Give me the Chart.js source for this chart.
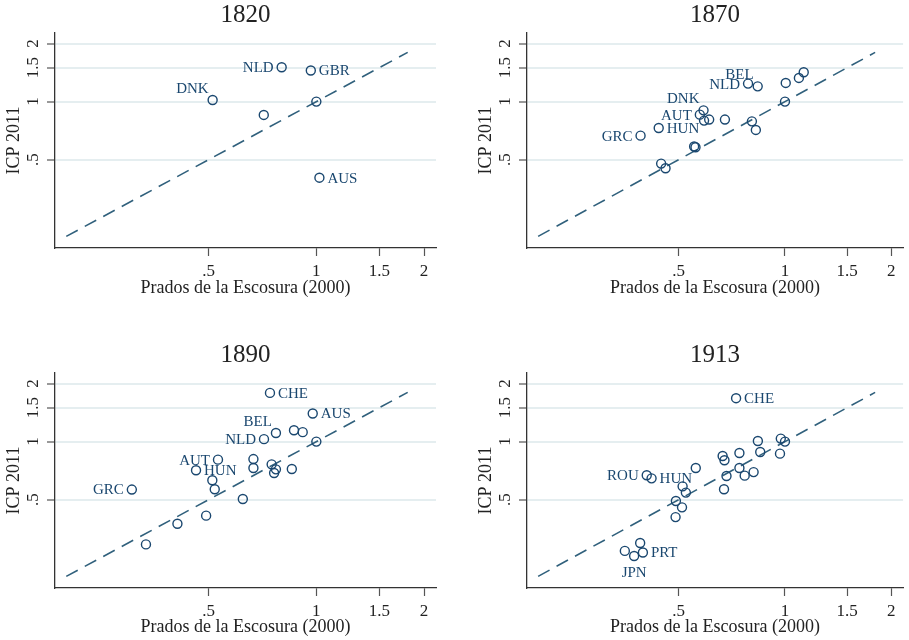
<!DOCTYPE html>
<html>
<head>
<meta charset="utf-8">
<script src="https://cdn.jsdelivr.net/npm/chart.js@4.4.1/dist/chart.umd.min.js"></script>
<style>
  body { margin: 0; background: #fff; }
  #painel { position: relative; width: 909px; height: 640px; background: #fff; overflow: hidden; }
  canvas { position: absolute; }
</style>
</head>
<body>
<div id="painel">
  <canvas id="g1820" width="454" height="320" style="left:0;top:0"></canvas>
  <canvas id="g1870" width="454" height="320" style="left:455px;top:0"></canvas>
  <canvas id="g1890" width="454" height="320" style="left:0;top:320px"></canvas>
  <canvas id="g1913" width="454" height="320" style="left:455px;top:320px"></canvas>
</div>
<script>
// === DADOS (Prados de la Escosura 2000 vs ICP 2011) ===
const paises1820 = ['DNK', 'NLD', 'GBR', '', '', 'AUS'];
const prados1820 = [0.513, 0.80, 0.965, 0.713, 1.00, 1.02];
const icp1820    = [1.02, 1.507, 1.45, 0.853, 1.00, 0.403];

const paises1870 = ['GRC', 'HUN', '', '', 'DNK', 'AUT', '', '', '', 'NLD', 'BEL', '', '', '', '', '', '', '', ''];
const prados1870 = [0.390, 0.439, 0.553, 0.558, 0.588, 0.574, 0.590, 0.610, 0.676, 0.786, 0.837, 1.005, 1.095, 1.13, 1.00, 0.806, 0.827, 0.446, 0.459];
const icp1870    = [0.666, 0.730, 0.585, 0.580, 0.901, 0.856, 0.797, 0.807, 0.807, 1.24, 1.20, 1.25, 1.327, 1.42, 1.00, 0.790, 0.713, 0.477, 0.451];

const paises1890 = ['CHE', 'AUS', 'BEL', '', '', 'NLD', '', 'AUT', '', '', '', '', '', '', 'HUN', '', '', 'GRC', '', '', '', ''];
const prados1890 = [0.742, 0.977, 0.771, 0.866, 0.916, 0.714, 1.00, 0.531, 0.667, 0.667, 0.750, 0.771, 0.762, 0.854, 0.461, 0.512, 0.520, 0.305, 0.623, 0.492, 0.409, 0.334];
const icp1890    = [1.79, 1.40, 1.108, 1.145, 1.12, 1.03, 1.00, 0.806, 0.812, 0.730, 0.762, 0.718, 0.687, 0.721, 0.710, 0.630, 0.566, 0.564, 0.504, 0.413, 0.375, 0.293];

const paises1913 = ['CHE', '', '', '', '', '', '', '', '', '', '', '', '', '', '', 'ROU', 'HUN', '', '', '', '', '', '', '', 'JPN', 'PRT'];
const prados1913 = [0.727, 0.838, 0.973, 1.00, 0.968, 0.851, 0.743, 0.666, 0.674, 0.559, 0.743, 0.683, 0.769, 0.815, 0.672, 0.406, 0.419, 0.513, 0.524, 0.491, 0.511, 0.490, 0.389, 0.352, 0.374, 0.396];
const icp1913    = [1.68, 1.007, 1.037, 1.00, 0.866, 0.883, 0.873, 0.842, 0.800, 0.730, 0.730, 0.663, 0.666, 0.695, 0.566, 0.669, 0.645, 0.586, 0.544, 0.492, 0.456, 0.406, 0.298, 0.271, 0.255, 0.266];

// marcas dos eixos e linha de 45 graus
const valoresTicks = [0.5, 1, 1.5, 2];
const rotulosTicks = ['.5', '1', '1.5', '2'];
const linha45 = [0.2, 1.8];

// posição das etiquetas (l = esquerda, r = direita, ul = acima/esquerda, b = abaixo)
const posEtiquetas = {
  '1820': { DNK: 'ul', NLD: 'l', GBR: 'r', AUS: 'r' },
  '1870': { GRC: 'l', HUN: 'r', DNK: 'ul', AUT: 'l', NLD: 'l', BEL: 'ul' },
  '1890': { CHE: 'r', AUS: 'r', BEL: 'ul', NLD: 'l', AUT: 'l', HUN: 'r', GRC: 'l' },
  '1913': { CHE: 'r', ROU: 'l', HUN: 'r', JPN: 'b', PRT: 'r' }
};

const azul = '#1a476f';
const serif = '"Liberation Serif", "Times New Roman", serif';

// Plugin para escrever os códigos dos países ao lado dos pontos
function pluginEtiquetas(paises, posicoes) {
  return {
    id: 'etiquetas',
    afterDatasetsDraw(chart) {
      const ctx = chart.ctx;
      const meta = chart.getDatasetMeta(0);
      ctx.save();
      ctx.font = '15px ' + serif;
      ctx.fillStyle = azul;
      ctx.textBaseline = 'middle';
      paises.forEach((p, i) => {
        if (!p) return;
        const pt = meta.data[i];
        const lado = posicoes[p] || 'r';
        if (lado === 'r') {
          ctx.textAlign = 'left';
          ctx.fillText(p, pt.x + 8, pt.y + 1);
        } else if (lado === 'l') {
          ctx.textAlign = 'right';
          ctx.fillText(p, pt.x - 8, pt.y + 1);
        } else if (lado === 'ul') {
          ctx.textAlign = 'right';
          ctx.fillText(p, pt.x - 4, pt.y - 11);
        } else {
          ctx.textAlign = 'center';
          ctx.fillText(p, pt.x, pt.y + 17);
        }
      });
      ctx.restore();
    }
  };
}

function criarGrafico(ano, paises, xs, ys, linha, coluna) {
  const ctx = document.getElementById('g' + ano).getContext('2d');
  const emCima = linha === 0;
  new Chart(ctx, {
    type: 'scatter',
    data: {
      datasets: [
        {
          data: xs.map((x, i) => ({ x: x, y: ys[i] })),
          borderColor: azul,
          backgroundColor: 'rgba(0,0,0,0)',
          borderWidth: 1.4,
          pointRadius: 4.5,
          pointHoverRadius: 4.5
        },
        {
          data: linha45.map(v => ({ x: v, y: v })),
          showLine: true,
          borderColor: '#30607c',
          borderWidth: 1.6,
          borderDash: [13, 8],
          pointRadius: 0,
          fill: false
        }
      ]
    },
    options: {
      responsive: false,
      animation: false,
      devicePixelRatio: 1,
      layout: { padding: { left: coluna === 0 ? 0 : 17, right: coluna === 0 ? 18 : 0, top: 0, bottom: 0 } },
      plugins: {
        legend: { display: false },
        tooltip: { enabled: false },
        title: {
          display: true,
          text: ano,
          fullSize: false,
          color: '#222',
          font: { family: serif, size: 25, weight: 'normal' },
          padding: { top: emCima ? 0 : 20, bottom: 3 }
        }
      },
      scales: {
        x: {
          type: 'logarithmic',
          position: 'bottom',
          min: 0.186,
          max: 2.16,
          afterBuildTicks: s => { s.ticks = valoresTicks.map(v => ({ value: v })); },
          afterFit: s => { s.height = emCima ? 72 : 52; },
          ticks: {
            autoSkip: false,
            maxRotation: 0,
            padding: 5,
            color: '#222',
            font: { family: serif, size: 17 },
            callback: (v, i) => rotulosTicks[i]
          },
          grid: { drawOnChartArea: false, tickColor: '#555', tickLength: 8, tickWidth: 1.2 },
          border: { color: '#333', width: 1.3 },
          title: {
            display: true,
            text: 'Prados de la Escosura (2000)',
            color: '#222',
            font: { family: serif, size: 18 },
            padding: { top: 0, bottom: emCima ? 20.7 : 1.5 }
          }
        },
        y: {
          type: 'logarithmic',
          position: 'left',
          min: 0.174,
          max: 2.27,
          afterBuildTicks: s => { s.ticks = valoresTicks.map(v => ({ value: v })); },
          afterFit: s => { s.width = 55; },
          ticks: {
            autoSkip: false,
            minRotation: 90,
            maxRotation: 90,
            crossAlign: 'center',
            padding: 3,
            color: '#222',
            font: { family: serif, size: 17 },
            callback: (v, i) => rotulosTicks[i]
          },
          grid: { color: '#e5eef0', lineWidth: 2, tickColor: '#555', tickLength: 8, tickWidth: 1.2 },
          border: { color: '#333', width: 1.3 },
          title: {
            display: true,
            text: 'ICP 2011',
            color: '#222',
            font: { family: serif, size: 18 },
            padding: { top: 3.5, bottom: 0 }
          }
        }
      }
    },
    plugins: [pluginEtiquetas(paises, posEtiquetas[ano])]
  });
}

// === GRÁFICOS ===
criarGrafico('1820', paises1820, prados1820, icp1820, 0, 0);
criarGrafico('1870', paises1870, prados1870, icp1870, 0, 1);
criarGrafico('1890', paises1890, prados1890, icp1890, 1, 0);
criarGrafico('1913', paises1913, prados1913, icp1913, 1, 1);
</script>
</body>
</html>
